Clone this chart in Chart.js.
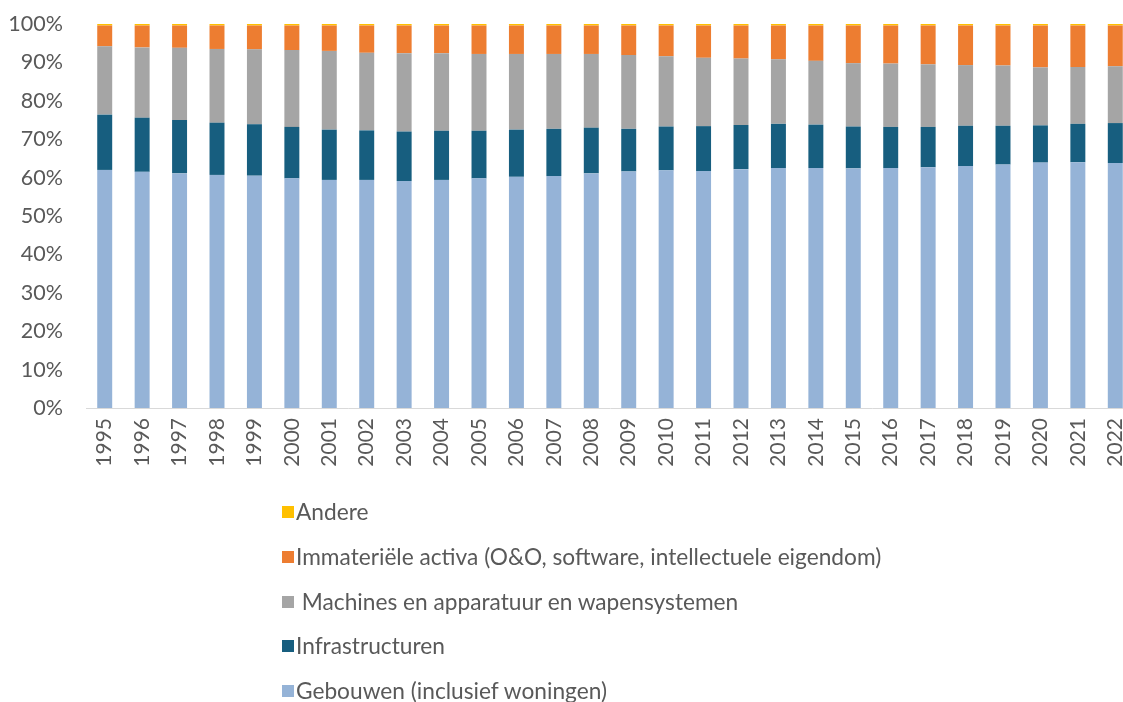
<!DOCTYPE html>
<html><head><meta charset="utf-8">
<script src="https://cdn.jsdelivr.net/npm/chart.js@4.4.1/dist/chart.umd.min.js"></script>
<style>
html,body{margin:0;padding:0;background:#fff;overflow:hidden;width:1123px;height:702px}
#wrap{position:absolute;left:0;top:0;width:1140px;height:500px}
#legend{position:absolute;left:0;top:0;width:1123px;height:702px;font-family:"Lato",sans-serif;font-size:22.7px;color:#595959}
.item{position:absolute;left:282px;white-space:pre;display:flex;align-items:center;height:30px;line-height:30px}
.box{width:12px;height:12px;margin-right:2px;flex:none}
</style>
</head><body>
<div id="wrap"><canvas id="c" width="1140" height="500"></canvas></div>
<div id="legend"></div>
<script>
const years = ['1995','1996','1997','1998','1999','2000','2001','2002','2003','2004','2005','2006','2007','2008','2009','2010','2011','2012','2013','2014','2015','2016','2017','2018','2019','2020','2021','2022'];
const gebouwen = [62.0,61.5,61.1,60.7,60.5,59.8,59.4,59.4,59.1,59.4,59.8,60.2,60.4,61.1,61.6,61.9,61.7,62.2,62.5,62.5,62.4,62.5,62.7,63.0,63.4,63.9,64.0,63.8];
const infrastructuren = [14.4,14.1,13.9,13.6,13.4,13.4,13.1,12.9,12.9,12.8,12.4,12.3,12.3,11.9,11.1,11.4,11.7,11.5,11.5,11.3,10.9,10.7,10.5,10.5,10.1,9.7,10.0,10.4];
const machines = [17.8,18.3,18.8,19.2,19.5,20.0,20.5,20.2,20.4,20.2,20.0,19.7,19.5,19.2,19.2,18.3,17.8,17.3,16.8,16.6,16.5,16.5,16.3,15.8,15.7,15.1,14.8,14.8];
const immaterieel = [5.4,5.7,5.8,6.1,6.2,6.4,6.6,7.1,7.2,7.2,7.4,7.4,7.4,7.4,7.7,8.0,8.4,8.6,8.8,9.2,9.8,9.9,10.1,10.3,10.4,10.9,10.8,10.6];
const andere = [0.4,0.4,0.4,0.4,0.4,0.4,0.4,0.4,0.4,0.4,0.4,0.4,0.4,0.4,0.4,0.4,0.4,0.4,0.4,0.4,0.4,0.4,0.4,0.4,0.4,0.4,0.4,0.4];
const yTicks = [0,10,20,30,40,50,60,70,80,90,100];

const seriesNames = ['Gebouwen (inclusief woningen)','Infrastructuren',' Machines en apparatuur en wapensystemen','Immateriële activa (O&O, software, intellectuele eigendom)','Andere'];
const seriesColors = ['#95B3D7','#175E7F','#A5A5A5','#ED7D31','#FFC000'];
const seriesData = [gebouwen, infrastructuren, machines, immaterieel, andere];

const FONT = '"Lato", sans-serif';
const chart = new Chart(document.getElementById('c'), {
  type: 'bar',
  data: {
    labels: years,
    datasets: seriesNames.map((n,i)=>({label:n, data:seriesData[i], backgroundColor:seriesColors[i], borderWidth:0}))
  },
  options: {
    responsive:false, animation:false,
    layout:{padding:{left:0,top:24,right:6,bottom:0}},
    plugins:{legend:{display:false}, tooltip:{enabled:false}},
    datasets:{bar:{barPercentage:0.4, categoryPercentage:1}},
    scales:{
      x:{stacked:true, grid:{display:false, drawTicks:false}, border:{color:'#D9D9D9', width:1},
         ticks:{minRotation:90, maxRotation:90, padding:10, autoSkip:false, color:'#595959', font:{family:FONT, size:21}},
         afterFit(s){ s.height = 500-408; s.paddingLeft = 0; s.paddingRight = 0; }},
      y:{stacked:true, min:0, max:100, grid:{display:false, drawTicks:false}, border:{display:false},
         afterBuildTicks(s){ s.ticks = yTicks.map(v=>({value:v})); },
         ticks:{padding:23, color:'#595959', font:{family:FONT, size:21.5}, callback:v=>v+'%'},
         afterFit(s){ s.width = 86; s.paddingTop = 0; s.paddingBottom = 0; }}
    }
  }
});

const legendCenters = [512,557,602,646,691];
const lg = document.getElementById('legend');
for (let k=0;k<5;k++){
  const i = 4-k;
  const it = document.createElement('div');
  it.className='item';
  it.style.top = (legendCenters[k]-15)+'px';
  const b = document.createElement('span'); b.className='box'; b.style.background=seriesColors[i];
  const t = document.createElement('span'); t.textContent = seriesNames[i];
  it.appendChild(b); it.appendChild(t); lg.appendChild(it);
}
</script>
</body></html>
